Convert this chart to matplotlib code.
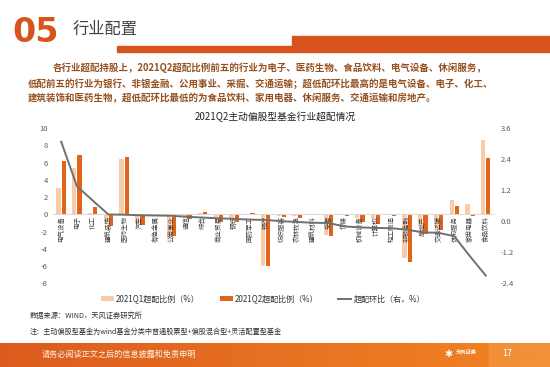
import matplotlib.pyplot as plt
import numpy as np
from matplotlib.patches import Rectangle

plt.rcParams['font.family'] = ['Noto Sans CJK SC', 'DejaVu Sans']
plt.rcParams['axes.unicode_minus'] = False

industries = ['电气设备', '电子', '化工', '建筑装饰', '医药生物', '汽车', '有色金属',
              '公用事业', '通信', '综合', '商业贸易', '钢铁', '国防军工', '银行',
              '纺织服装', '农林牧渔', '建筑材料', '采掘', '传媒', '机械设备', '计算机',
              '轻工制造', '非银金融', '房地产', '交通运输', '休闲服务', '家用电器', '食品饮料']
q1_ratio = [3.06, 5.4, 0.2, -0.85, 6.43, -1.15, -0.1,
            -2.9, -0.3, 0.1, -0.45, -0.5, -0.1, -6.05,
            -0.2, -0.2, 0.03, -2.35, -0.05, -0.4, -0.6,
            -0.05, -5.1, -1.3, -1.45, 1.67, 1.2, 8.57]
q2_ratio = [6.16, 6.82, 0.9, -1.37, 6.67, -1.2, -0.1,
            -2.5, -0.5, 0.25, -0.9, -0.95, 0.1, -6.05,
            -0.35, -0.4, 0.08, -2.55, -0.2, -0.85, -1.1,
            -0.2, -5.5, -2.3, -1.85, 1.0, -0.25, 6.47]
change_qoq = [3.07, 1.35, 0.8, 0.26, 0.25, 0.23, 0.22,
              0.21, 0.17, 0.14, 0.11, 0.09, 0.06, 0.05,
              0.0, -0.03, -0.06, -0.07, -0.2, -0.24, -0.26,
              -0.27, -0.33, -0.43, -0.45, -0.58, -1.36, -2.1]

W, H = 550, 367
orange = '#D9531E'
light = '#F9CBA7'
dark = '#E2641A'


def fx(px):
    return px / W


def fy(py):
    return 1 - py / H


fig = plt.figure(figsize=(5.5, 3.67), dpi=100)

# header
fig.text(fx(12), fy(32), '05', fontsize=24, fontweight='heavy', color=orange,
         va='center', family='DejaVu Sans')
fig.text(fx(73), fy(29), '行业配置', fontsize=11.7, color='#404040', va='center')
fig.patches.append(Rectangle((fx(117), fy(52)), fx(292 - 117), 6 / H,
                             transform=fig.transFigure, color=orange))
fig.patches.append(Rectangle((fx(292), fy(52)), fx(550 - 292), 16 / H,
                             transform=fig.transFigure, color=orange))

para = ['各行业超配持股上，2021Q2超配比例前五的行业为电子、医药生物、食品饮料、电气设备、休闲服务，',
        '低配前五的行业为银行、非银金融、公用事业、采掘、交通运输；超低配环比最高的是电气设备、电子、化工、',
        '建筑装饰和医药生物，超低配环比最低的为食品饮料、家用电器、休闲服务、交通运输和房地产。']
for i, (line, x0) in enumerate(zip(para, [53, 28, 28])):
    fig.text(fx(x0), fy(68 + i * 15.3), line, fontsize=6.8, color='#94501F',
             fontweight='bold', va='center')

# chart
ax = fig.add_axes([0.097, 0.228, 0.8005, 0.4232])
x = np.arange(len(industries))
b1 = ax.bar(x - 0.165, q1_ratio, 0.27, color=light, label='2021Q1超配比例（%）')
b2 = ax.bar(x + 0.165, q2_ratio, 0.27, color=dark, label='2021Q2超配比例（%）')
ax.set_xlim(-0.5, len(industries) - 0.5)
ax.set_ylim(-8, 10)
ax.set_yticks(range(-8, 11, 2))
for s in ['top', 'right', 'left']:
    ax.spines[s].set_visible(False)
ax.spines['bottom'].set_position(('data', 0))
ax.spines['bottom'].set_color('#D9D9D9')
ax.spines['bottom'].set_linewidth(0.75)
ax.set_xticks(x, industries, rotation=90, fontsize=4.7, color='#404040')
ax.tick_params(axis='x', length=0, pad=1.5)
ax.tick_params(axis='y', length=0, labelsize=5.5, labelcolor='#595959', pad=4)

ax2 = ax.twinx()
l1, = ax2.plot(x, change_qoq, color='#707070', lw=1.4, label='超配环比（右，%）')
ax2.set_ylim(-2.4, 3.6)
ticks = np.arange(-2.4, 3.61, 1.2)
ax2.set_yticks(ticks, ['%.1f' % t for t in ticks])
for s in ax2.spines.values():
    s.set_visible(False)
ax2.tick_params(axis='y', length=0, labelsize=5.5, labelcolor='#595959', pad=5)

fig.text(fx(275), fy(117), '2021Q2主动偏股型基金行业超配情况', fontsize=7,
         ha='center', va='center', color='#222222')

fig.legend([b1, b2, l1], [b1.get_label(), b2.get_label(), l1.get_label()],
           loc='center left', bbox_to_anchor=(fx(101), fy(299)), ncol=3,
           frameon=False, fontsize=5.8, handlelength=1.6, handleheight=0.45,
           handletextpad=0.25, columnspacing=2.5, borderpad=0, borderaxespad=0,
           labelcolor='#333333')

fig.text(fx(30), fy(316), '数据来源：WIND，天风证券研究所', fontsize=5.2,
         color='#333333', va='center')
fig.text(fx(30), fy(332), '注：主动偏股型基金为wind基金分类中普通股票型+偏股混合型+灵活配置型基金',
         fontsize=5.1, color='#333333', va='center')

# footer band
fax = fig.add_axes([0, 0, 1, 24 / H])
grad = np.linspace(0, 1, 256)
c0 = np.array([0.86, 0.36, 0.12])
c1 = np.array([0.95, 0.52, 0.14])
img = c0[None, None, :] * (1 - grad[None, :, None]) + c1[None, None, :] * grad[None, :, None]
fax.imshow(img, aspect='auto', extent=(0, W, 0, 24))
fax.add_patch(Rectangle((489, 0), 61, 24, color='#F29A45', alpha=0.6))
fax.set_xlim(0, W)
fax.set_ylim(0, 24)
fax.axis('off')
fig.text(fx(42), fy(354), '请务必阅读正文之后的信息披露和免责申明', fontsize=5.9,
         color='#FFF1E6', va='center')
fig.text(fx(448), fy(354), '✱', fontsize=7, color='white', ha='center', va='center',
         family=['DejaVu Sans'])
fig.text(fx(456), fy(353), '天风证券', fontsize=3.8, color='white', fontweight='bold',
         va='center')
fig.text(fx(507), fy(354), '17', fontsize=6.5, color='white', ha='center', va='center')

fig.savefig('out.png', dpi=100)
